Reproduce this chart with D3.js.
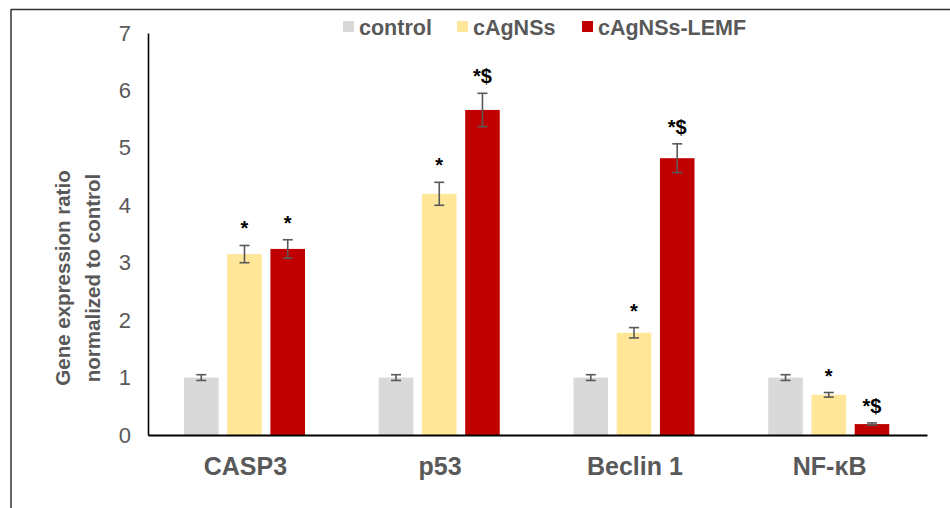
<!DOCTYPE html>
<html>
<head>
<meta charset="utf-8">
<script src="https://cdn.jsdelivr.net/npm/d3@7"></script>
<style>
  html, body { margin: 0; padding: 0; background: #fff; }
  svg { display: block; font-family: "Liberation Sans", Arial, sans-serif; }
</style>
</head>
<body>
<svg id="chart" width="950" height="508"></svg>
<script>
const categories = ["CASP3", "p53", "Beclin 1", "NF-κB"];
const seriesNames = ["control", "cAgNSs", "cAgNSs-LEMF"];
const seriesColors = ["#d9d9d9", "#ffe699", "#c00000"];
const controlValues = [1.0, 1.0, 1.0, 1.0];
const controlErrors = [0.05, 0.05, 0.05, 0.05];
const cAgNSsValues = [3.15, 4.2, 1.78, 0.70];
const cAgNSsErrors = [0.15, 0.2, 0.09, 0.04];
const lemfValues = [3.24, 5.66, 4.82, 0.19];
const lemfErrors = [0.16, 0.29, 0.25, 0.02];
const controlMarks = ["", "", "", ""];
const cAgNSsMarks = ["*", "*", "*", "*"];
const lemfMarks = ["*", "*$", "*$", "*$"];
const yTicks = [0, 1, 2, 3, 4, 5, 6, 7];
const yTitle = ["Gene expression ratio", "normalized to control"];

const valuesBySeries = [controlValues, cAgNSsValues, lemfValues];
const errorsBySeries = [controlErrors, cAgNSsErrors, lemfErrors];
const marksBySeries = [controlMarks, cAgNSsMarks, lemfMarks];

const svg = d3.select("#chart");
const textGray = "#595959";

// frame
svg.append("line").attr("x1", 11).attr("x2", 950).attr("y1", 9.5).attr("y2", 9.5)
  .attr("stroke", "#333").attr("stroke-width", 1.5);
svg.append("line").attr("x1", 11).attr("x2", 11).attr("y1", 9).attr("y2", 508)
  .attr("stroke", "#333").attr("stroke-width", 1.5);

const x0 = d3.scaleBand().domain(categories).range([148, 927]).padding(0);
const x1 = d3.scaleBand().domain(seriesNames).range([36, 157]).paddingInner(0.2).paddingOuter(0);
const y = d3.scaleLinear().domain([0, 7]).range([435, 33]);

const data = [];
categories.forEach((c, ci) => {
  seriesNames.forEach((s, si) => {
    data.push({cat: c, series: s, si: si,
      value: valuesBySeries[si][ci], err: errorsBySeries[si][ci], mark: marksBySeries[si][ci]});
  });
});

const g = svg.append("g");
g.selectAll("rect.bar").data(data).join("rect")
  .attr("class", "bar")
  .attr("x", d => x0(d.cat) + x1(d.series))
  .attr("width", x1.bandwidth())
  .attr("y", d => y(d.value))
  .attr("height", d => y(0) - y(d.value))
  .attr("fill", d => seriesColors[d.si]);

const eb = g.selectAll("g.err").data(data).join("g").attr("class", "err")
  .attr("stroke", "#595959").attr("stroke-width", 1.6);
const cx = d => x0(d.cat) + x1(d.series) + x1.bandwidth() / 2;
eb.append("line").attr("x1", cx).attr("x2", cx)
  .attr("y1", d => y(d.value + d.err)).attr("y2", d => y(d.value - d.err));
eb.append("line").attr("x1", d => cx(d) - 5).attr("x2", d => cx(d) + 5)
  .attr("y1", d => y(d.value + d.err)).attr("y2", d => y(d.value + d.err));
eb.append("line").attr("x1", d => cx(d) - 5).attr("x2", d => cx(d) + 5)
  .attr("y1", d => y(d.value - d.err)).attr("y2", d => y(d.value - d.err));

g.selectAll("text.mark").data(data.filter(d => d.mark)).join("text")
  .attr("class", "mark")
  .attr("x", cx)
  .attr("y", d => y(d.value + d.err) - 10)
  .attr("text-anchor", "middle")
  .attr("font-size", 20).attr("font-weight", "bold").attr("fill", "#000")
  .text(d => d.mark);

const yAxis = d3.axisLeft(y).tickValues(yTicks).tickSize(0).tickPadding(17).tickFormat(d3.format("d"));
const ya = svg.append("g").attr("transform", "translate(148,0)").call(yAxis);
ya.select(".domain").attr("stroke", "#000").attr("stroke-width", 1.6);
ya.selectAll("text").attr("font-size", 22).attr("fill", textGray)
  .attr("font-family", "'Liberation Sans', Arial, sans-serif");

const xAxis = d3.axisBottom(x0).tickSize(0).tickPadding(22);
const xa = svg.append("g").attr("transform", "translate(0,435)").call(xAxis);
xa.select(".domain").attr("stroke", "#000").attr("stroke-width", 2);
xa.selectAll("text").attr("font-size", 25).attr("font-weight", "bold").attr("fill", textGray)
  .attr("font-family", "'Liberation Sans', Arial, sans-serif");

const yt = svg.append("text").attr("transform", "translate(0,278) rotate(-90)")
  .attr("text-anchor", "middle").attr("font-size", 20.5).attr("font-weight", "bold").attr("fill", textGray);
yt.selectAll("tspan").data(yTitle).join("tspan")
  .attr("x", 0).attr("y", (d, i) => 70 + i * 30).text(d => d);

const legendX = [343, 457, 582];
const lg = svg.append("g");
seriesNames.forEach((s, i) => {
  lg.append("rect").attr("x", legendX[i]).attr("y", 21).attr("width", 11).attr("height", 11).attr("fill", seriesColors[i]);
  lg.append("text").attr("x", legendX[i] + 16).attr("y", 34.5).attr("font-size", 21.5).attr("font-weight", "bold")
    .attr("fill", textGray).text(s);
});
</script>
</body>
</html>
